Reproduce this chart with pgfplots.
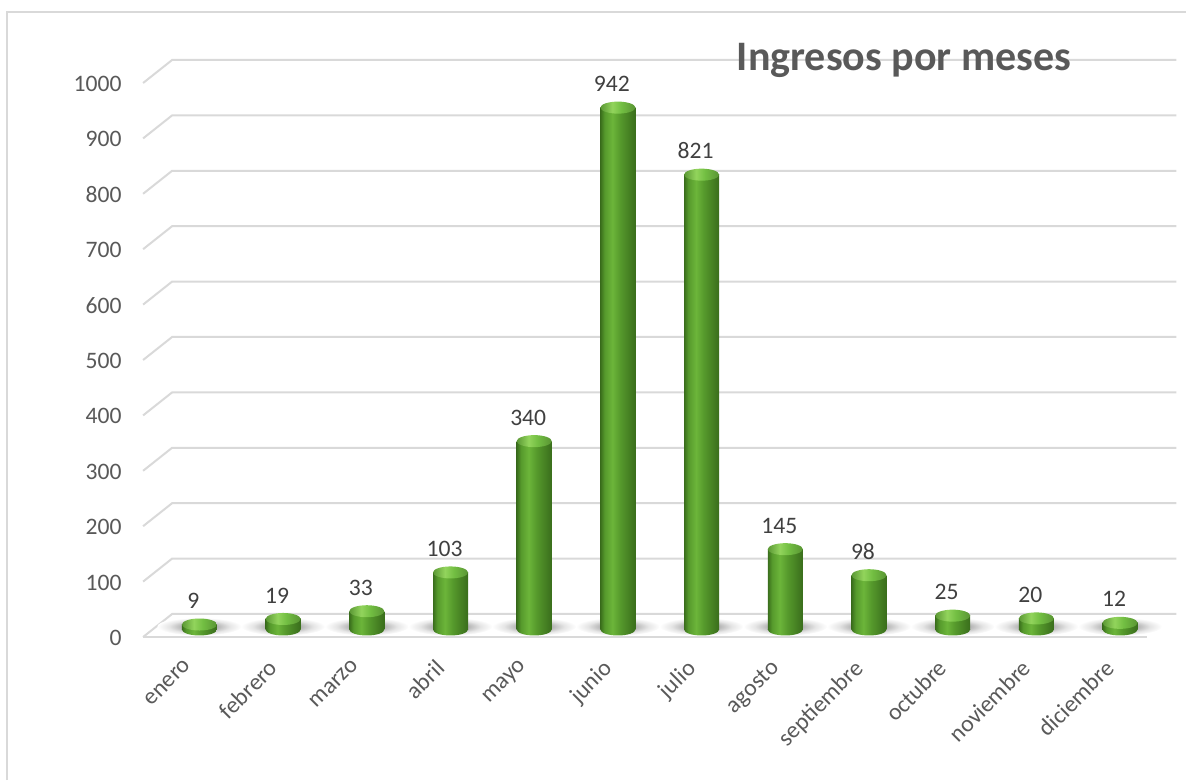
\documentclass[border=0pt]{standalone}
\usepackage{fontspec}
\setmainfont{Carlito}
\usepackage{pgfplots}
\pgfplotsset{compat=1.18}
\definecolor{txt}{HTML}{595959}
\definecolor{lbl}{HTML}{404040}
\definecolor{gridc}{HTML}{D9D9D9}
\definecolor{cdark}{HTML}{3A6E1C}
\definecolor{cmid}{HTML}{569A2C}
\definecolor{clight}{HTML}{6CB53A}
\definecolor{ctop}{HTML}{72BE42}
\definecolor{ctopl}{HTML}{92D45C}
\pgfdeclarehorizontalshading{cylbody}{100bp}{color(0bp)=(cdark); color(25bp)=(cdark); color(31bp)=(cmid); color(42bp)=(clight); color(53bp)=(cmid); color(68bp)=(cdark!70!cmid); color(75bp)=(cdark); color(100bp)=(cdark)}
\pgfdeclarehorizontalshading{cyltop}{100bp}{color(0bp)=(ctop!80!black); color(25bp)=(ctop!80!black); color(42bp)=(ctopl); color(55bp)=(ctop); color(75bp)=(ctop!78!black); color(100bp)=(ctop!78!black)}
\pgfdeclareradialshading{shadowsh}{\pgfpoint{0bp}{0bp}}{color(0bp)=(black!50); color(8bp)=(black!35); color(18bp)=(black!10); color(25bp)=(white); color(50bp)=(white)}
\pgfdeclareplotmark{shadowm}{\pgfpathellipse{\pgfpoint{0pt}{1.5pt}}{\pgfpoint{21pt}{0pt}}{\pgfpoint{0pt}{4.5pt}}\pgfshadepath{shadowsh}{0}\pgfusepath{discard}}
\pgfdeclareplotmark{cylbot}{\pgfpathellipse{\pgfpointorigin}{\pgfpoint{8.75pt}{0pt}}{\pgfpoint{0pt}{3pt}}\pgfshadepath{cylbody}{0}\pgfusepath{discard}}
\pgfdeclareplotmark{cyltop}{\pgfpathellipse{\pgfpointorigin}{\pgfpoint{8.75pt}{0pt}}{\pgfpoint{0pt}{3pt}}\pgfshadepath{cyltop}{0}\pgfusepath{discard}}
\pgfplotsset{cyl/.style={ybar, bar width=17.5pt, draw=none, shade, shading=cylbody, forget plot}}
\begin{document}
\begin{tikzpicture}
\draw[gridc, line width=0.75pt] (3.5pt,0) -- (3.5pt,384pt) -- (593pt,384pt);
\begin{axis}[
  set layers,
  at={(78.8pt,75.25pt)}, anchor=south west,
  scale only axis, width=502.15pt, height=277pt,
  xmin=-0.5, xmax=11.5, ymin=0, ymax=1000,
  clip=false, clip mode=individual,
  axis line style={draw=none}, major tick length=0pt,
  /pgf/number format/assume math mode=true,
  /pgf/number format/1000 sep={},
  ytick={0,100,...,1000},
  xtick={0,...,11},
  xticklabels={enero,febrero,marzo,abril,mayo,junio,julio,agosto,septiembre,octubre,noviembre,diciembre},
  tick label style={font=\fontsize{11.8}{14}\selectfont, text=txt},
  yticklabel style={xshift=-14.5pt, yshift=-4.25pt},
  xticklabel style={xshift=-8pt, yshift=-9.5pt, rotate=45, anchor=north east},
]
\begin{pgfonlayer}{axis background}
\pgfplotsinvokeforeach{0,100,...,1000}{
  \draw[gridc, line width=1pt] ([xshift=-7.25pt,yshift=-3.75pt]axis cs:-0.5,#1) -- ([xshift=7.25pt,yshift=7.75pt]axis cs:-0.5,#1) -- ([xshift=7.25pt,yshift=7.75pt]axis cs:11.5,#1);
}
\draw[gridc, line width=1pt] ([xshift=-7.25pt,yshift=-3.75pt]axis cs:-0.5,0) -- ([xshift=-7.25pt,yshift=-3.75pt]axis cs:11.5,0);
\end{pgfonlayer}
\addplot[only marks, mark=shadowm] coordinates {(0,0)(1,0)(2,0)(3,0)(4,0)(5,0)(6,0)(7,0)(8,0)(9,0)(10,0)(11,0)};
\addplot[only marks, mark=cylbot] coordinates {(0,0)(1,0)(2,0)(3,0)(4,0)(5,0)(6,0)(7,0)(8,0)(9,0)(10,0)(11,0)};
\addplot[cyl] coordinates {(0,9)};
\addplot[cyl] coordinates {(1,19)};
\addplot[cyl] coordinates {(2,33)};
\addplot[cyl] coordinates {(3,103)};
\addplot[cyl] coordinates {(4,340)};
\addplot[cyl] coordinates {(5,942)};
\addplot[cyl] coordinates {(6,821)};
\addplot[cyl] coordinates {(7,145)};
\addplot[cyl] coordinates {(8,98)};
\addplot[cyl] coordinates {(9,25)};
\addplot[cyl] coordinates {(10,20)};
\addplot[cyl] coordinates {(11,12)};
\addplot[only marks, mark=cyltop, nodes near coords,
  every node near coord/.append style={font=\fontsize{11.8}{14}\selectfont, text=lbl, xshift=-3pt, yshift=4.4pt}]
  coordinates {(0,9)(1,19)(2,33)(3,103)(4,340)(5,942)(6,821)(7,145)(8,98)(9,25)(10,20)(11,12)};
\end{axis}
\node[anchor=base, font=\bfseries\fontsize{21}{24}\selectfont, text=txt, inner sep=0pt] at (452pt,354.5pt) {Ingresos por meses};
\pgfresetboundingbox
\path[use as bounding box] (0,0) rectangle (593pt,390pt);
\end{tikzpicture}
\end{document}
